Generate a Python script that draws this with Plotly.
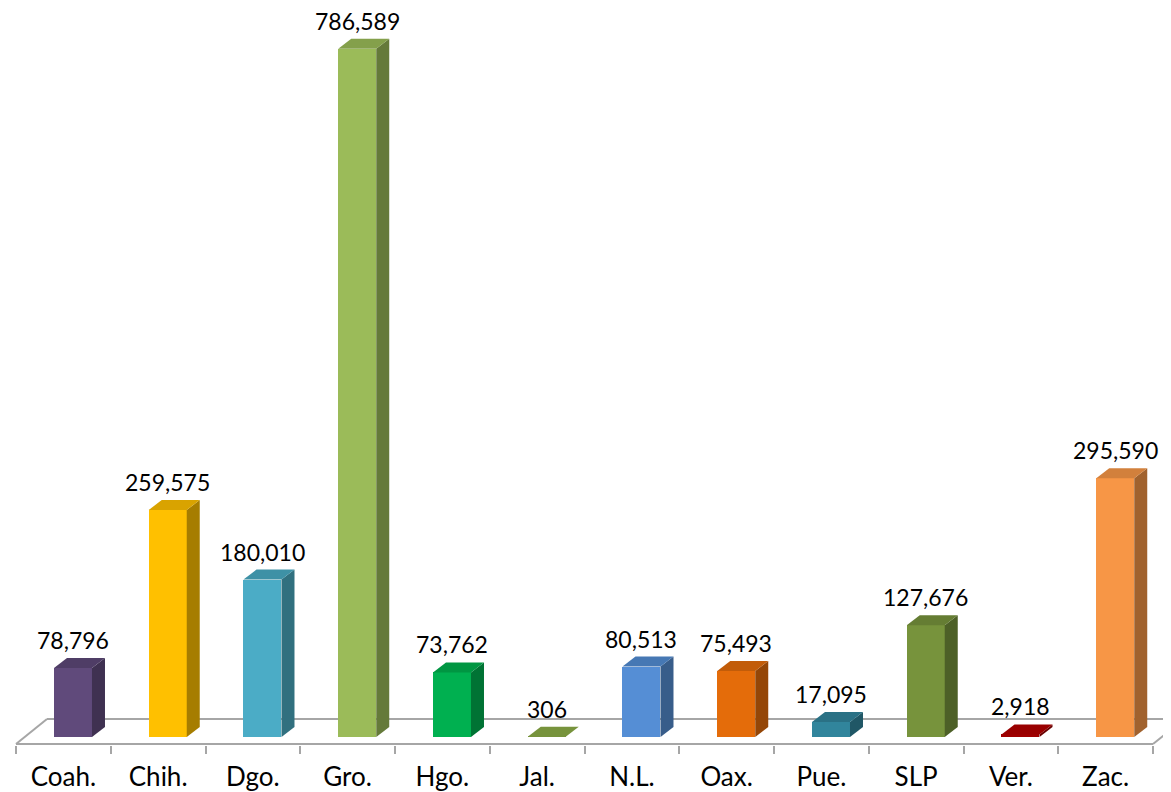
import plotly.graph_objects as go

# ---- data ----
categories = ["Coah.", "Chih.", "Dgo.", "Gro.", "Hgo.", "Jal.", "N.L.", "Oax.", "Pue.", "SLP", "Ver.", "Zac."]
values = [78796, 259575, 180010, 786589, 73762, 306, 80513, 75493, 17095, 127676, 2918, 295590]
front_colors = ["#604A7B", "#FFC000", "#4BACC6", "#9BBB59", "#00B050", "#77933C",
                "#558ED5", "#E46C0A", "#31859C", "#77933C", "#A00000", "#F79646"]
side_colors = ["#3F3151", "#A67D00", "#31707F", "#657A3A", "#007334", "#4D6027",
               "#385D8A", "#944607", "#205766", "#4D6027", "#6A0000", "#A1622E"]
top_colors = ["#4F3D66", "#D9A300", "#3E91A6", "#84A04B", "#009642", "#77933C",
              "#4678B4", "#C25C09", "#2A7185", "#657D33", "#990000", "#D2803C"]

# ---- geometry (pixel-based layout constants; page body has an 8px margin) ----
OFF = 8
W, H = 1171 - OFF, 792 - OFF
px_per_cat = 94.75
x_left_px = 16.0 - OFF
x0 = -0.5 - x_left_px / px_per_cat
x1 = x0 + W / px_per_cat
units_per_px = 1142.9
zero_px = 737 - OFF
plot_bottom_px = 745 - OFF
y_top = zero_px * units_per_px
y_bot = -(plot_bottom_px - zero_px) * units_per_px

bar_l, bar_r = -0.099, 0.302          # front face relative to category center
dx_bar = 13 / px_per_cat               # bar depth (x)
dy_bar = 10 * units_per_px             # bar depth (y)
floor_front = -7 * units_per_px
floor_back = 18 * units_per_px
dx_floor = 31 / px_per_cat

fig = go.Figure()

n = len(categories)
floor_shapes = [
    dict(type="line", xref="x", yref="y", x0=-0.5, x1=n - 0.5, y0=floor_front, y1=floor_front),
    dict(type="line", xref="x", yref="y", x0=-0.5 + dx_floor, x1=n - 0.5 + dx_floor, y0=floor_back, y1=floor_back),
    dict(type="line", xref="x", yref="y", x0=-0.5, x1=-0.5 + dx_floor, y0=floor_front, y1=floor_back),
    dict(type="line", xref="x", yref="y", x0=n - 0.5, x1=n - 0.5 + dx_floor, y0=floor_front, y1=floor_back),
]
for s in floor_shapes:
    s["line"] = dict(color="#A6A6A6", width=2)
    s["layer"] = "below"

# front faces
xs = list(range(n))
fig.add_trace(go.Bar(
    x=[i + (bar_l + bar_r) / 2 for i in xs], y=values, base=0,
    width=bar_r - bar_l, marker=dict(color=front_colors, line=dict(width=0)),
    hoverinfo="skip", showlegend=False))

# side and top faces
for i, v in enumerate(values):
    xl, xr = i + bar_l, i + bar_r
    fig.add_trace(go.Scatter(
        x=[xr, xr + dx_bar, xr + dx_bar, xr, xr],
        y=[0, dy_bar, v + dy_bar, v, 0],
        fill="toself", fillcolor=side_colors[i], mode="lines",
        line=dict(width=0, color=side_colors[i]), hoverinfo="skip", showlegend=False))
    fig.add_trace(go.Scatter(
        x=[xl, xr, xr + dx_bar, xl + dx_bar, xl],
        y=[v, v, v + dy_bar, v + dy_bar, v],
        fill="toself", fillcolor=top_colors[i], mode="lines",
        line=dict(width=0, color=top_colors[i]), hoverinfo="skip", showlegend=False))

# value labels
annotations = []
for i, v in enumerate(values):
    annotations.append(dict(
        x=i + (bar_l + bar_r) / 2, y=v, xref="x", yref="y",
        text=f"{v:,}", showarrow=False, yanchor="middle", yshift=28,
        font=dict(family="Lato, Carlito, sans-serif", size=23, color="#000000")))

fig.update_layout(
    width=W, height=H,
    margin=dict(l=0, r=0, t=0, b=H - plot_bottom_px),
    paper_bgcolor="white", plot_bgcolor="white",
    shapes=floor_shapes, annotations=annotations,
    xaxis=dict(range=[x0, x1], tickvals=xs, ticktext=categories, ticks="",
               showgrid=False, zeroline=False, showline=False,
               ticklabelstandoff=14,
               tickfont=dict(family="Lato, Carlito, sans-serif", size=26, color="#000000"),
               minor=dict(tickvals=[k - 0.5 for k in range(n + 1)], ticks="outside",
                          ticklen=8, tickwidth=2, tickcolor="#A6A6A6", showgrid=False)),
    yaxis=dict(range=[y_bot, y_top], visible=False, showgrid=False, zeroline=False),
    bargap=0,
)

fig.write_html("out.html")
